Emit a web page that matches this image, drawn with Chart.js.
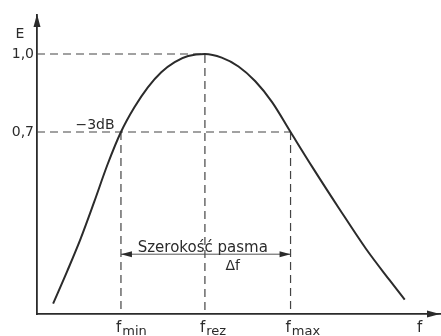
<!DOCTYPE html>
<html>
<head>
<meta charset="utf-8">
<script src="https://cdn.jsdelivr.net/npm/chart.js@4"></script>
<style>
  html, body { margin: 0; padding: 0; background: #fff; }
  #wrap { width: 441px; height: 336px; }
</style>
</head>
<body>
<div id="wrap"><canvas id="resonance"></canvas></div>
<script>
// resonance curve E(f), relative units
const freq  = [0.48, 0.9, 1.3, 1.7, 2.1, 2.5, 2.9, 3.3, 3.7, 4.1, 4.5, 5.0,
               5.5, 6.0, 6.5, 7.0, 7.55, 8.2, 9.0, 9.8, 10.5, 10.95];
const level = [0.04, 0.165, 0.29, 0.43, 0.575, 0.70, 0.795, 0.872, 0.93, 0.969, 0.992, 1.0,
               0.986, 0.952, 0.895, 0.815, 0.70, 0.565, 0.405, 0.25, 0.13, 0.055];

const yTicks = [0.7, 1.0];
const fMin = 2.5, fRez = 5, fMax = 7.55;
const bandLevel = 0.23;
const freqMarks = [['f', 'min', fMin], ['f', 'rez', fRez], ['f', 'max', fMax]];

const INK = '#2b2b2b';
const FONT = '"DejaVu Sans", sans-serif';

const dashed = {
  borderColor: '#444', borderWidth: 1.2, borderDash: [8, 5],
  pointRadius: 0, tension: 0, fill: false
};

const guides = [
  [{ x: 0, y: 1.0 }, { x: fRez, y: 1.0 }, { x: fRez, y: 0 }],
  [{ x: 0, y: 0.7 }, { x: fMax, y: 0.7 }],
  [{ x: fMin, y: 0.7 }, { x: fMin, y: 0 }],
  [{ x: fMax, y: 0.7 }, { x: fMax, y: 0 }]
];

function arrowHead(ctx, x, y, dx, dy, len, half) {
  ctx.beginPath();
  ctx.moveTo(x, y);
  ctx.lineTo(x - dx * len - dy * half, y - dy * len + dx * half);
  ctx.lineTo(x - dx * len + dy * half, y - dy * len - dx * half);
  ctx.closePath();
  ctx.fill();
}

const annotations = {
  id: 'annotations',
  afterDraw(chart) {
    const { ctx, chartArea: a, scales: { x, y } } = chart;
    ctx.save();
    ctx.fillStyle = INK;

    // axis arrows
    arrowHead(ctx, a.left, a.top - 1, 0, -1, 13, 3.5);
    arrowHead(ctx, a.right, a.bottom, 1, 0, 13, 3.5);

    // band width arrows
    const by = y.getPixelForValue(bandLevel);
    arrowHead(ctx, x.getPixelForValue(fMin), by, -1, 0, 11, 3);
    arrowHead(ctx, x.getPixelForValue(fMax), by, 1, 0, 11, 3);

    // y labels
    ctx.font = '14px ' + FONT;
    ctx.textAlign = 'right';
    ctx.textBaseline = 'middle';
    yTicks.forEach(v => {
      ctx.fillText(v.toFixed(1).replace('.', ','), a.left - 3, y.getPixelForValue(v));
    });
    ctx.textAlign = 'center';
    ctx.fillText('E', a.left - 17, 34);

    ctx.textBaseline = 'alphabetic';
    ctx.fillText('\u22123dB', 95, y.getPixelForValue(0.7) - 3);

    ctx.font = '15px ' + FONT;
    const mid = (x.getPixelForValue(fMin) + x.getPixelForValue(fMax)) / 2;
    ctx.fillText('Szeroko\u015b\u0107 pasma', mid - 3, by - 2);
    ctx.font = '14px ' + FONT;
    ctx.fillText('\u0394f', mid + 27, by + 16);

    // frequency labels under the axis
    ctx.textAlign = 'left';
    freqMarks.forEach(([sym, sub, f]) => {
      const px = x.getPixelForValue(f) - 5;
      ctx.font = '15px ' + FONT;
      ctx.fillText(sym, px, a.bottom + 18);
      const w = ctx.measureText(sym).width;
      ctx.font = '13px ' + FONT;
      ctx.fillText(sub, px + w + 1, a.bottom + 21);
    });
    ctx.font = '15px ' + FONT;
    ctx.fillText('f', 417, a.bottom + 18);
    ctx.restore();
  }
};

new Chart(document.getElementById('resonance'), {
  type: 'line',
  data: {
    datasets: [
      {
        data: freq.map((f, i) => ({ x: f, y: level[i] })),
        borderColor: INK, borderWidth: 2, pointRadius: 0,
        cubicInterpolationMode: 'monotone', fill: false
      },
      ...guides.map(g => ({ data: g, ...dashed })),
      {
        data: [{ x: fMin, y: bandLevel }, { x: fMax, y: bandLevel }],
        borderColor: '#555', borderWidth: 1, pointRadius: 0, fill: false
      }
    ]
  },
  options: {
    responsive: true,
    maintainAspectRatio: false,
    animation: false,
    events: [],
    layout: { padding: { left: 37, top: 15, right: 1, bottom: 22 } },
    scales: {
      x: {
        type: 'linear', min: 0, max: 12,
        grid: { display: false },
        ticks: { display: false },
        border: { display: true, color: INK, width: 1.8 },
        afterFit: s => { s.height = 0; }
      },
      y: {
        min: 0, max: 1.15,
        grid: { display: false },
        ticks: { display: false },
        border: { display: true, color: INK, width: 1.8 },
        afterFit: s => { s.width = 0; }
      }
    },
    plugins: {
      legend: { display: false },
      tooltip: { enabled: false }
    }
  },
  plugins: [annotations]
});
</script>
</body>
</html>
